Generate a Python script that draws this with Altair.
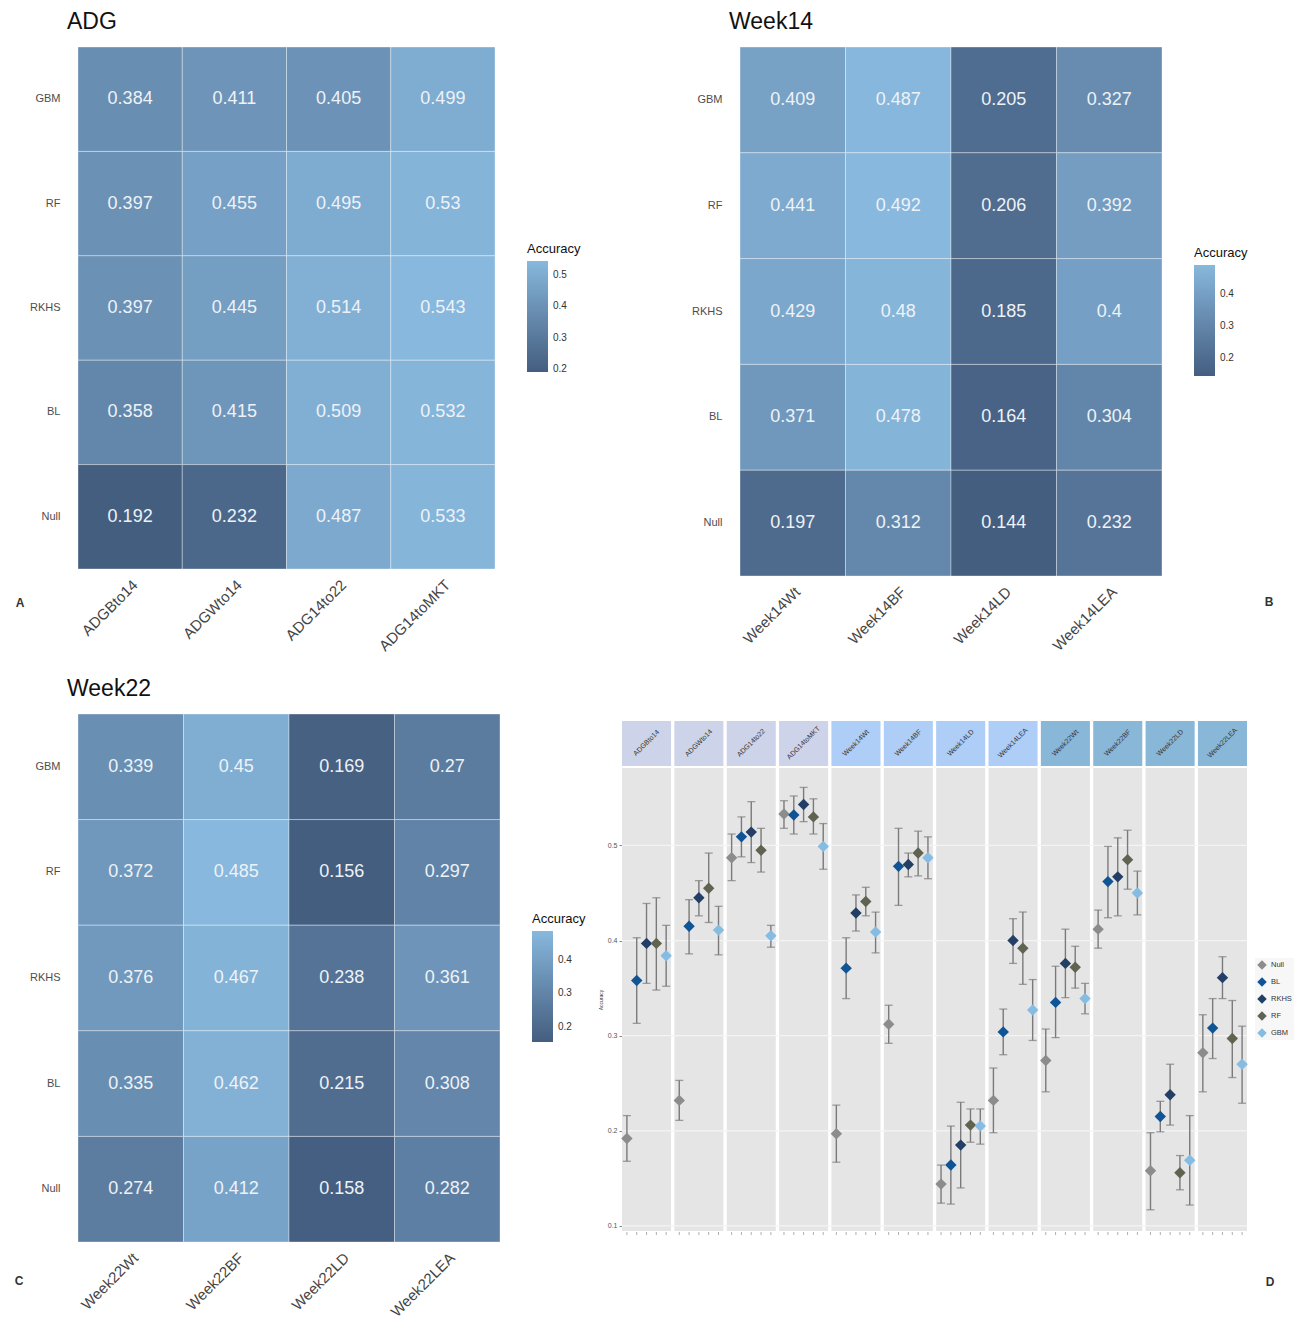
import altair as alt
import pandas as pd

FONT = "Liberation Sans"

# ---------------- data ----------------
models_top_down = ["GBM", "RF", "RKHS", "BL", "Null"]
models = ["Null", "BL", "RKHS", "RF", "GBM"]

adg_traits = ["ADGBto14", "ADGWto14", "ADG14to22", "ADG14toMKT"]
adg_gbm = [0.384, 0.411, 0.405, 0.499]
adg_rf = [0.397, 0.455, 0.495, 0.53]
adg_rkhs = [0.397, 0.445, 0.514, 0.543]
adg_bl = [0.358, 0.415, 0.509, 0.532]
adg_null = [0.192, 0.232, 0.487, 0.533]

wk14_traits = ["Week14Wt", "Week14BF", "Week14LD", "Week14LEA"]
wk14_gbm = [0.409, 0.487, 0.205, 0.327]
wk14_rf = [0.441, 0.492, 0.206, 0.392]
wk14_rkhs = [0.429, 0.48, 0.185, 0.4]
wk14_bl = [0.371, 0.478, 0.164, 0.304]
wk14_null = [0.197, 0.312, 0.144, 0.232]

wk22_traits = ["Week22Wt", "Week22BF", "Week22LD", "Week22LEA"]
wk22_gbm = [0.339, 0.45, 0.169, 0.27]
wk22_rf = [0.372, 0.485, 0.156, 0.297]
wk22_rkhs = [0.376, 0.467, 0.238, 0.361]
wk22_bl = [0.335, 0.462, 0.215, 0.308]
wk22_null = [0.274, 0.412, 0.158, 0.282]

# interval bounds for the dot plot, one value per trait (12 traits, ADG -> Week14 -> Week22)
null_lo = [0.168, 0.211, 0.463, 0.518, 0.167, 0.292, 0.124, 0.198, 0.241, 0.392, 0.117, 0.241]
null_hi = [0.216, 0.253, 0.512, 0.547, 0.227, 0.332, 0.164, 0.266, 0.307, 0.432, 0.198, 0.322]
bl_lo = [0.313, 0.386, 0.488, 0.512, 0.339, 0.437, 0.123, 0.280, 0.298, 0.424, 0.199, 0.276]
bl_hi = [0.403, 0.443, 0.530, 0.552, 0.403, 0.518, 0.205, 0.328, 0.373, 0.499, 0.231, 0.339]
rkhs_lo = [0.355, 0.426, 0.482, 0.525, 0.410, 0.467, 0.140, 0.376, 0.340, 0.426, 0.206, 0.339]
rkhs_hi = [0.439, 0.463, 0.546, 0.561, 0.448, 0.492, 0.230, 0.423, 0.412, 0.508, 0.270, 0.383]
rf_lo = [0.348, 0.419, 0.472, 0.512, 0.426, 0.468, 0.188, 0.354, 0.350, 0.454, 0.138, 0.256]
rf_hi = [0.445, 0.492, 0.518, 0.549, 0.456, 0.515, 0.223, 0.430, 0.394, 0.516, 0.174, 0.337]
gbm_lo = [0.352, 0.385, 0.393, 0.475, 0.387, 0.465, 0.186, 0.295, 0.323, 0.427, 0.122, 0.229]
gbm_hi = [0.416, 0.436, 0.416, 0.523, 0.430, 0.509, 0.223, 0.359, 0.355, 0.473, 0.216, 0.310]

trait_groups = ["ADG", "Week14", "Week22"]
strip_colors = ["#cdd3e8", "#aecdf7", "#89b7d8"]
model_colors = ["#8c8c8c", "#0f5595", "#233f66", "#5f6450", "#86bbe2"]
heat_range = ["#445e80", "#88b8dd"]


def heat_frame(traits, gbm, rf, rkhs, bl, null):
    rows = []
    for m, vals in zip(models_top_down, [gbm, rf, rkhs, bl, null]):
        for t, v in zip(traits, vals):
            rows.append({"trait": t, "model": m, "acc": v, "label": str(v)})
    return pd.DataFrame(rows)


def heatmap(title, df, traits, w, h, legend_vals, legend_y, letter, lx, ly):
    vmin, vmax = float(df["acc"].min()), float(df["acc"].max())
    base = alt.Chart(df).encode(
        x=alt.X("trait:N", sort=traits, title=None,
                scale=alt.Scale(paddingInner=0, paddingOuter=0),
                axis=alt.Axis(labelAngle=315, labelAlign="right", labelBaseline="top",
                              labelFontSize=15, labelColor="#444444", labelPadding=8,
                              ticks=False, domain=False, labelFont=FONT)),
        y=alt.Y("model:N", sort=models_top_down, title=None,
                scale=alt.Scale(paddingInner=0, paddingOuter=0),
                axis=alt.Axis(labelFontSize=11, labelColor="#4d4d4d", labelPadding=18,
                              ticks=False, domain=False, labelFont=FONT)),
    )
    rect = base.mark_rect(stroke="#ffffff", strokeOpacity=0.35, strokeWidth=1).encode(
        color=alt.Color("acc:Q",
                        scale=alt.Scale(domain=[vmin, vmax], range=heat_range, interpolate="lab"),
                        legend=alt.Legend(title="Accuracy", orient="none", legendX=w + 32,
                                          legendY=legend_y, direction="vertical",
                                          gradientLength=111, gradientThickness=21,
                                          values=legend_vals, format=".1f",
                                          titleFontSize=13, titleFontWeight="normal",
                                          titleColor="#111111", titleFont=FONT,
                                          labelFontSize=10, labelColor="#333333",
                                          labelFont=FONT, titlePadding=5,
                                          gradientStrokeWidth=0, labelOffset=5))
    )
    text = base.mark_text(fontSize=18, color="#eef2f7", font=FONT).encode(text="label:N")
    tag = alt.Chart(pd.DataFrame({"t": [letter]})).mark_text(
        fontSize=12, fontWeight="bold", color="#333333", font=FONT
    ).encode(text="t:N", x=alt.value(lx), y=alt.value(ly))
    return alt.layer(rect, text, tag).properties(
        width=w, height=h,
        title=alt.TitleParams(title, anchor="start", frame="group", fontSize=23,
                              fontWeight="normal", color="#111111", font=FONT,
                              dx=-11, offset=13),
    )


chart_a = heatmap("ADG", heat_frame(adg_traits, adg_gbm, adg_rf, adg_rkhs, adg_bl, adg_null),
                  adg_traits, 417, 522, [0.2, 0.3, 0.4, 0.5], 196, "A", -58, 556)
chart_b = heatmap("Week14", heat_frame(wk14_traits, wk14_gbm, wk14_rf, wk14_rkhs, wk14_bl, wk14_null),
                  wk14_traits, 422, 529, [0.2, 0.3, 0.4], 200, "B", 529, 555)
chart_c = heatmap("Week22", heat_frame(wk22_traits, wk22_gbm, wk22_rf, wk22_rkhs, wk22_bl, wk22_null),
                  wk22_traits, 422, 528, [0.2, 0.3, 0.4], 199, "C", -59, 567)

# ---------------- dot plot with intervals ----------------
all_traits = adg_traits + wk14_traits + wk22_traits
groups = ["ADG"] * 4 + ["Week14"] * 4 + ["Week22"] * 4
means = {
    "Null": adg_null + wk14_null + wk22_null,
    "BL": adg_bl + wk14_bl + wk22_bl,
    "RKHS": adg_rkhs + wk14_rkhs + wk22_rkhs,
    "RF": adg_rf + wk14_rf + wk22_rf,
    "GBM": adg_gbm + wk14_gbm + wk22_gbm,
}
lows = {"Null": null_lo, "BL": bl_lo, "RKHS": rkhs_lo, "RF": rf_lo, "GBM": gbm_lo}
highs = {"Null": null_hi, "BL": bl_hi, "RKHS": rkhs_hi, "RF": rf_hi, "GBM": gbm_hi}

rows = []
for m in models:
    for i, t in enumerate(all_traits):
        rows.append({"trait": t, "model": m, "acc": means[m][i],
                     "lo": lows[m][i], "hi": highs[m][i]})
dots = pd.DataFrame(rows)
traits_df = pd.DataFrame({"trait": all_traits, "group": groups})

DW, DH = 625, 463
xband = alt.Scale(paddingInner=0.063, paddingOuter=0)
xs = alt.X("trait:N", sort=all_traits, scale=xband, axis=None)
xo = alt.XOffset("model:N", sort=models, scale=alt.Scale(paddingInner=0, paddingOuter=0))
yscale = alt.Scale(domain=[0.0947, 0.5814], nice=False, zero=False)

panel_bg = alt.Chart(traits_df).mark_rect(color="#e5e5e5").encode(
    x=xs, y=alt.value(0), y2=alt.value(DH))
grid = alt.Chart(pd.DataFrame({"g": [0.1, 0.2, 0.3, 0.4, 0.5]})).mark_rule(
    color="#f4f4f4", strokeWidth=1.2).encode(
    y=alt.Y("g:Q", scale=yscale, title="Accuracy",
            axis=alt.Axis(values=[0.1, 0.2, 0.3, 0.4, 0.5], format=".1f", labelFontSize=7,
                          labelColor="#555555", tickSize=3, tickColor="#888888",
                          domain=False, grid=False, titleFontSize=5,
                          titleFontWeight="normal", titleColor="#333333", titlePadding=4,
                          labelFont=FONT, titleFont=FONT)),
    x=alt.value(0), x2=alt.value(DW))
bars = alt.Chart(dots).mark_rule(color="#7a7a7a", strokeWidth=1.4).encode(
    x=xs, xOffset=xo, y=alt.Y("lo:Q", scale=yscale), y2="hi:Q")
cap_lo = alt.Chart(dots).mark_tick(color="#7a7a7a", thickness=1.3, size=8).encode(
    x=xs, xOffset=xo, y=alt.Y("lo:Q", scale=yscale))
cap_hi = alt.Chart(dots).mark_tick(color="#7a7a7a", thickness=1.3, size=8).encode(
    x=xs, xOffset=xo, y=alt.Y("hi:Q", scale=yscale))
points = alt.Chart(dots).mark_point(shape="diamond", filled=True, size=130, opacity=1).encode(
    x=xs, xOffset=xo, y=alt.Y("acc:Q", scale=yscale),
    color=alt.Color("model:N", sort=models,
                    scale=alt.Scale(domain=models, range=model_colors),
                    legend=alt.Legend(title=None, orient="none", legendX=DW + 8, legendY=190,
                                      symbolType="diamond", symbolSize=90,
                                      labelFontSize=7.5, labelColor="#333333",
                                      labelFont=FONT, rowPadding=7, symbolStrokeWidth=0,
                                      fillColor="#f7f7f7", padding=2)))
xticks = alt.Chart(dots).mark_rule(color="#999999", strokeWidth=0.8).encode(
    x=xs, xOffset=xo, y=alt.value(DH + 1), y2=alt.value(DH + 4))
tag_d = alt.Chart(pd.DataFrame({"t": ["D"]})).mark_text(
    fontSize=12, fontWeight="bold", color="#333333", font=FONT
).encode(text="t:N", x=alt.value(648), y=alt.value(514))

main_d = alt.layer(panel_bg, grid, bars, cap_lo, cap_hi, points, xticks, tag_d).properties(
    width=DW, height=DH)

# facet strips, set a little below the top of the row
strip_base = alt.Chart(traits_df).encode(x=xs)
strip_rect = strip_base.mark_rect().encode(
    y=alt.value(7), y2=alt.value(52),
    color=alt.Color("group:N", scale=alt.Scale(domain=trait_groups, range=strip_colors),
                    legend=None))
strip_text = strip_base.mark_text(angle=315, fontSize=7, color="#333333", font=FONT).encode(
    text="trait:N", y=alt.value(29))
strip = alt.layer(strip_rect, strip_text).properties(width=DW, height=52)

chart_d = alt.vconcat(strip, main_d, spacing=2).resolve_scale(color="independent")

top = alt.hconcat(chart_a, chart_b, spacing=110).resolve_scale(color="independent")
bottom = alt.hconcat(chart_c, chart_d, spacing=12).resolve_scale(color="independent")

chart = alt.vconcat(top, bottom, spacing=23).resolve_scale(color="independent").properties(
    padding={"left": 14, "top": 10, "right": 0, "bottom": 0}
).configure(font=FONT).configure_view(stroke=None)

chart.save("out.html", embed_options={"renderer": "svg", "actions": False})
